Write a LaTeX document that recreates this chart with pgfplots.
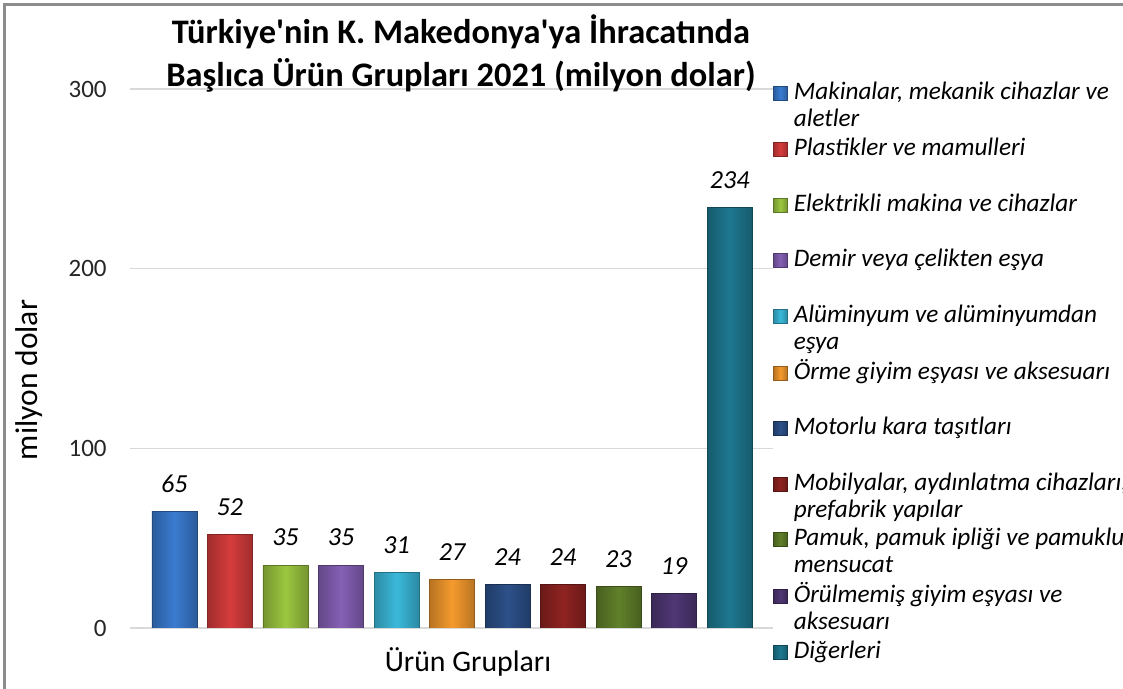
\documentclass[border=0pt]{standalone}
\usepackage{pgfplots}
\pgfplotsset{compat=1.18}
\usepackage{fontspec}
\setmainfont{Carlito}

% Excel-like palette
\definecolor{c1}{HTML}{3A7BD0}
\definecolor{c2}{HTML}{D63C3C}
\definecolor{c3}{HTML}{9CC740}
\definecolor{c4}{HTML}{8560B5}
\definecolor{c5}{HTML}{3BB9DA}
\definecolor{c6}{HTML}{F59A2D}
\definecolor{c7}{HTML}{2C5089}
\definecolor{c8}{HTML}{8F2321}
\definecolor{c9}{HTML}{60802A}
\definecolor{c10}{HTML}{4F3774}
\definecolor{c11}{HTML}{1E7890}
\definecolor{gridc}{HTML}{D9D9D9}
\definecolor{framec}{HTML}{8C8C8C}

\newcommand{\legtxt}[2]{\parbox[t]{200pt}{\raggedright\strut #1\par\strut #2}}

\pgfplotsset{
  bevel/.style={left color=#1!75!black, right color=#1!75!black, middle color=#1, draw=#1!60!black, line width=0.4pt},
}

\begin{document}
\begin{tikzpicture}
\useasboundingbox (0,0) rectangle (561.5pt,344.5pt);

% frame (left and top)
\draw[framec, line width=1.5pt] (2.2pt,-5pt) -- (2.2pt,342.3pt) -- (570pt,342.3pt);

\begin{axis}[
    at={(65pt,30.5pt)}, anchor=south west,
    scale only axis,
    width=321.5pt, height=269.5pt,
    xmin=-0.8, xmax=10.78,
    ymin=0, ymax=300,
    ytick={0,100,200,300},
    xtick=\empty,
    ymajorgrids,
    grid style={gridc, line width=0.7pt},
    axis line style={draw=none},
    major tick length=0pt,
    /pgf/number format/assume math mode=true,
    yticklabel style={font=\fontsize{12.5}{14}\selectfont, text=black!85, inner sep=0pt, anchor=east, xshift=-11.5pt},
    ybar, bar width=22.5pt, bar shift=0pt,
    nodes near coords,
    every node near coord/.append style={font=\fontsize{13}{15}\selectfont\itshape, text=black, anchor=south, inner sep=0pt, yshift=9.3pt},
    legend image code/.code={\draw[#1] (0pt,-0.5pt) rectangle (7pt,6.5pt);},
    legend cell align=left,
    legend style={at={(1.0,1.015)}, anchor=north west, draw=none, fill=none,
        inner sep=0pt, outer sep=0pt, row sep=16.85pt, column sep=3pt,
        nodes={anchor=base west, inner sep=0pt, text=black,
               font=\fontsize{12.6}{13.5}\selectfont\itshape}},
]
\addplot[bevel=c1] coordinates {(0,65)};
\addlegendentry{\legtxt{Makinalar, mekanik cihazlar ve}{aletler}}
\addplot[bevel=c2] coordinates {(1,52)};
\addlegendentry{\legtxt{Plastikler ve mamulleri}{}}
\addplot[bevel=c3] coordinates {(2,35)};
\addlegendentry{\legtxt{Elektrikli makina ve cihazlar}{}}
\addplot[bevel=c4] coordinates {(3,35)};
\addlegendentry{\legtxt{Demir veya çelikten eşya}{}}
\addplot[bevel=c5] coordinates {(4,31)};
\addlegendentry{\legtxt{Alüminyum ve alüminyumdan}{eşya}}
\addplot[bevel=c6] coordinates {(5,27)};
\addlegendentry{\legtxt{Örme giyim eşyası ve aksesuarı}{}}
\addplot[bevel=c7] coordinates {(6,24)};
\addlegendentry{\legtxt{Motorlu kara taşıtları}{}}
\addplot[bevel=c8] coordinates {(7,24)};
\addlegendentry{\legtxt{Mobilyalar, aydınlatma cihazları,}{prefabrik yapılar}}
\addplot[bevel=c9] coordinates {(8,23)};
\addlegendentry{\legtxt{Pamuk, pamuk ipliği ve pamuklu}{mensucat}}
\addplot[bevel=c10] coordinates {(9,19)};
\addlegendentry{\legtxt{Örülmemiş giyim eşyası ve}{aksesuarı}}
\addplot[bevel=c11] coordinates {(10,234)};
\addlegendentry{\legtxt{Diğerleri}{}}
\end{axis}

% title and axis titles
\node[align=center, font=\fontsize{17.2}{21.5}\selectfont\bfseries] at (230.5pt,317.75pt)
  {Türkiye\textquotesingle nin K. Makedonya\textquotesingle ya İhracatında\\Başlıca Ürün Grupları 2021 (milyon dolar)};
\node[rotate=90, font=\fontsize{15.75}{18}\selectfont] at (14.75pt,154.5pt) {milyon dolar};
\node[font=\fontsize{14.9}{17}\selectfont] at (234pt,13.5pt) {Ürün Grupları};
\end{tikzpicture}
\end{document}
